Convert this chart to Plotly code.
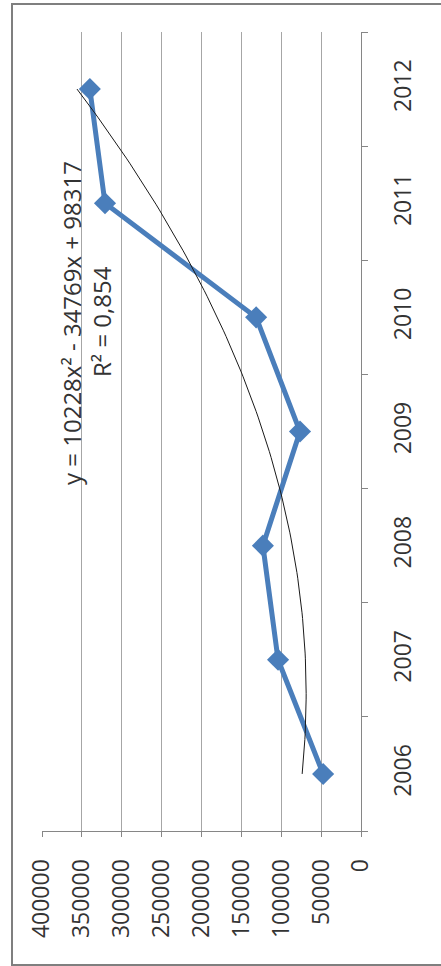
import numpy as np
import plotly.graph_objects as go

# ---- data ----
years = [2006, 2007, 2008, 2009, 2010, 2011, 2012]
values = [47500, 104000, 123000, 76500, 131500, 321000, 340000]
value_ticks = [0, 50000, 100000, 150000, 200000, 250000, 300000, 350000, 400000]
value_tick_labels = ["0", "50000", "100000", "150000", "200000", "250000", "300000", "350000", "400000"]
year_labels = ["2006", "2007", "2008", "2009", "2010", "2011", "2012"]

# polynomial trendline as printed on the chart (x = 1..7 for 2006..2012)
trend_a = 10228
trend_b = -34769
trend_c = 98317
equation_text = "y = 10228x² - 34769x + 98317"
r2_text = "R² = 0,854"

t = np.linspace(1, 7, 120)
trend_years = years[0] - 1 + t
trend_vals = trend_a * t ** 2 + trend_b * t + trend_c

FONT = "Open Sans"
TXT = "#333333"
GRID = "#A6A6A6"
AXIS = "#868686"
BLUE = "#4A7EBB"

fig = go.Figure()
fig.add_trace(go.Scatter(
    x=values, y=years, mode="lines+markers",
    line=dict(color=BLUE, width=5),
    marker=dict(symbol="diamond", size=17, color=BLUE),
    showlegend=False, hoverinfo="skip"))
fig.add_trace(go.Scatter(
    x=trend_vals, y=trend_years, mode="lines",
    line=dict(color="#1a1a1a", width=1),
    showlegend=False, hoverinfo="skip"))

W, H = 441, 966
L, R, T, B = 42, 80, 32, 135
pw, ph = W - L - R, H - T - B

def px_to_paper_x(px):
    return (px - L) / pw

def px_to_paper_y(py):
    return (H - B - py) / ph

fig.update_layout(
    width=W, height=H,
    margin=dict(l=L, r=R, t=T, b=B, pad=0),
    paper_bgcolor="white", plot_bgcolor="white",
    font=dict(family=FONT, color=TXT),
    xaxis=dict(
        range=[400000, 0], tickvals=value_ticks, ticktext=value_tick_labels,
        tickangle=-90, tickfont=dict(size=23, color=TXT, family=FONT),
        showgrid=True, gridcolor=GRID, gridwidth=1,
        showline=True, linecolor=AXIS, linewidth=1,
        ticks="outside", ticklen=5, tickcolor=AXIS,
        zeroline=False, ticklabelstandoff=13),
    yaxis=dict(
        side="right", range=[2005.5, 2012.5],
        tickvals=years, ticktext=year_labels, ticks="",
        tickangle=-90, tickfont=dict(size=23, color=TXT, family=FONT),
        showgrid=False, showline=True, linecolor=AXIS, linewidth=1,
        zeroline=False, ticklabelstandoff=21,
        minor=dict(tick0=2005.5, dtick=1, ticks="outside", ticklen=6,
                   tickcolor=AXIS, showgrid=False)),
    annotations=[
        dict(text=equation_text, xref="paper", yref="paper",
             x=px_to_paper_x(72), y=px_to_paper_y(323), textangle=-90,
             showarrow=False, font=dict(size=24, color=TXT, family=FONT),
             xanchor="center", yanchor="middle"),
        dict(text=r2_text, xref="paper", yref="paper",
             x=px_to_paper_x(101), y=px_to_paper_y(322), textangle=-90,
             showarrow=False, font=dict(size=24, color=TXT, family=FONT),
             xanchor="center", yanchor="middle"),
    ],
    shapes=[
        dict(type="rect", xref="paper", yref="paper",
             x0=px_to_paper_x(12), x1=px_to_paper_x(450),
             y0=px_to_paper_y(965), y1=px_to_paper_y(4),
             line=dict(color="#7F7F7F", width=2), fillcolor="rgba(0,0,0,0)",
             layer="below"),
    ],
)

fig.write_html(
    "out.html",
    config={"displayModeBar": False},
    post_script="document.body.style.margin='0';document.body.style.overflow='hidden';",
)
